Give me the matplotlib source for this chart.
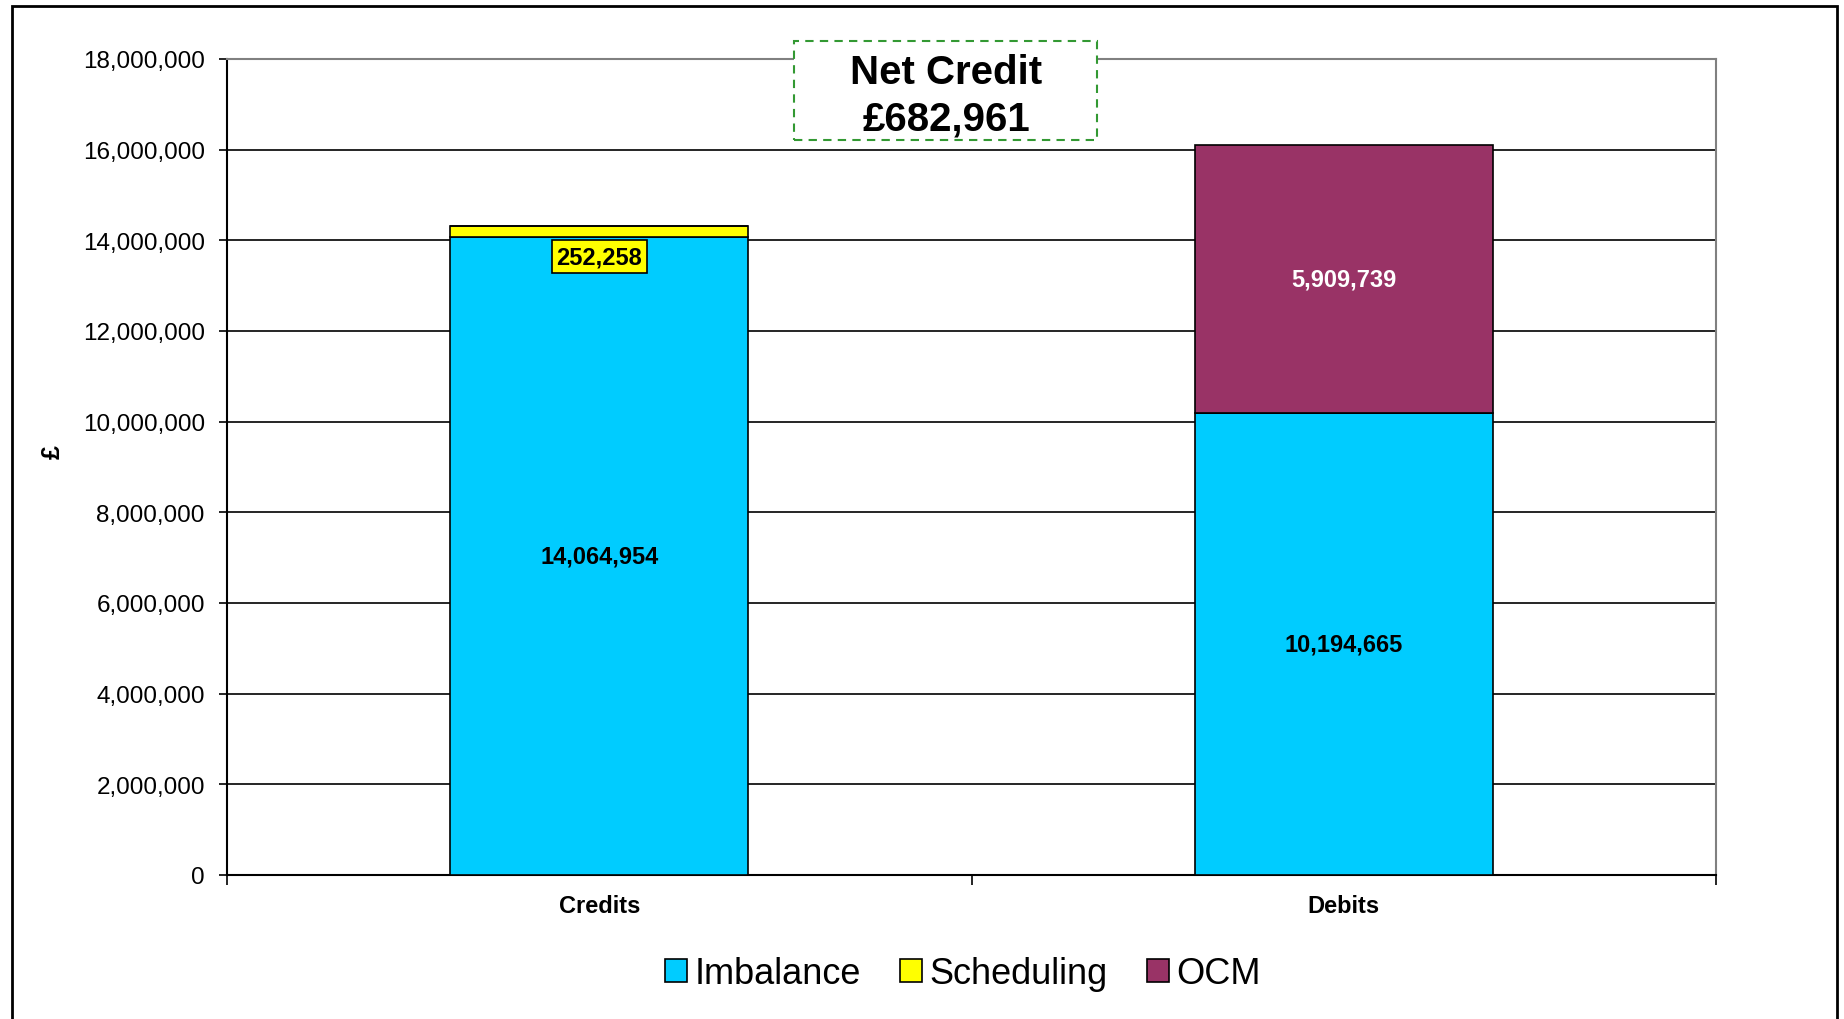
import matplotlib.pyplot as plt
from matplotlib.patches import Rectangle
from matplotlib.ticker import FuncFormatter

plt.rcParams['font.family'] = ['Liberation Sans', 'DejaVu Sans']

# data
categories = ['Credits', 'Debits']
imbalance = [14064954, 10194665]
scheduling = [252258, 0]
ocm = [0, 5909739]
net_credit_text = 'Net Credit\n£682,961'

c_imb = '#00CCFF'
c_sch = '#FFFF00'
c_ocm = '#993366'

fig = plt.figure(figsize=(18.44, 10.20), dpi=100)
ax = fig.add_axes([227/1844, 1 - 876/1020, (1716-227)/1844, (876-60)/1020])

x = [0.5, 1.5]
w = 0.4
bottom_sch = imbalance
bottom_ocm = [a + b for a, b in zip(imbalance, scheduling)]

ax.bar(x, imbalance, w, color=c_imb, edgecolor='black', linewidth=1.2, label='Imbalance', zorder=3)
ax.bar(x, scheduling, w, bottom=bottom_sch, color=c_sch, edgecolor='black', linewidth=1.2, label='Scheduling', zorder=3)
ax.bar(x, ocm, w, bottom=bottom_ocm, color=c_ocm, edgecolor='black', linewidth=1.2, label='OCM', zorder=3)

ax.set_xlim(0, 2)
ax.set_ylim(0, 18000000)
ax.set_yticks(range(0, 18000001, 2000000))
ax.yaxis.set_major_formatter(FuncFormatter(lambda v, p: f'{int(v):,}'))
ax.grid(axis='y', color='black', linewidth=1.2, zorder=0)

ax.set_xticks([0, 1, 2])
ax.set_xticklabels([])
ax.set_xticks(x, minor=True)
ax.set_xticklabels(categories, minor=True, fontsize=17, fontweight='bold')
ax.tick_params(axis='x', which='major', length=7, width=1.2, direction='out')
ax.tick_params(axis='x', which='minor', length=0, pad=14)
ax.tick_params(axis='y', length=6, width=1.2, pad=10, labelsize=17.5)

for s in ['top', 'right']:
    ax.spines[s].set_color('#808080')
    ax.spines[s].set_linewidth(1.5)
for s in ['left', 'bottom']:
    ax.spines[s].set_color('black')
    ax.spines[s].set_linewidth(1.5)

# value labels
ax.text(x[0], imbalance[0] / 2, f'{imbalance[0]:,}', ha='center', va='center',
        fontsize=17, fontweight='bold', zorder=5)
ax.text(x[1], imbalance[1] / 2, f'{imbalance[1]:,}', ha='center', va='center',
        fontsize=17, fontweight='bold', zorder=5)
ax.text(x[1], bottom_ocm[1] + ocm[1] / 2, f'{ocm[1]:,}', ha='center', va='center',
        fontsize=17, fontweight='bold', color='white', zorder=5)
ax.annotate(f'{scheduling[0]:,}', xy=(x[0], bottom_ocm[0]), xytext=(0, -22),
            textcoords='offset points', ha='center', va='center',
            fontsize=17, fontweight='bold', zorder=6,
            bbox=dict(boxstyle='square,pad=0.2', facecolor=c_sch, edgecolor='black', linewidth=1.2))

fig.text(53/1844, 1 - 452/1020, '£', rotation=90, ha='center', va='center',
         fontsize=18, fontweight='bold')

# net credit box
fig.patches.append(Rectangle((794/1844, 1 - 141/1020), 303/1844, 99/1020,
                             transform=fig.transFigure, facecolor='white',
                             edgecolor='#339933', linestyle=(0, (4, 3)), linewidth=1.5, zorder=5))
fig.text(946/1844, 1 - 96/1020, net_credit_text, ha='center', va='center',
         fontsize=29, fontweight='bold', linespacing=1.3, zorder=6)

# outer chart border
fig.patches.append(Rectangle((12/1844, -0.05), (1837-12)/1844, 1.05 - 7/1020,
                             transform=fig.transFigure, facecolor='none',
                             edgecolor='black', linewidth=2, zorder=1))

fig.legend(loc='center', bbox_to_anchor=(963/1844, 1 - 975/1020), ncol=3, frameon=False,
           fontsize=26, handlelength=0.6, handleheight=0.6, handletextpad=0.2,
           columnspacing=1.1)

fig.savefig('out.png', dpi=100)
